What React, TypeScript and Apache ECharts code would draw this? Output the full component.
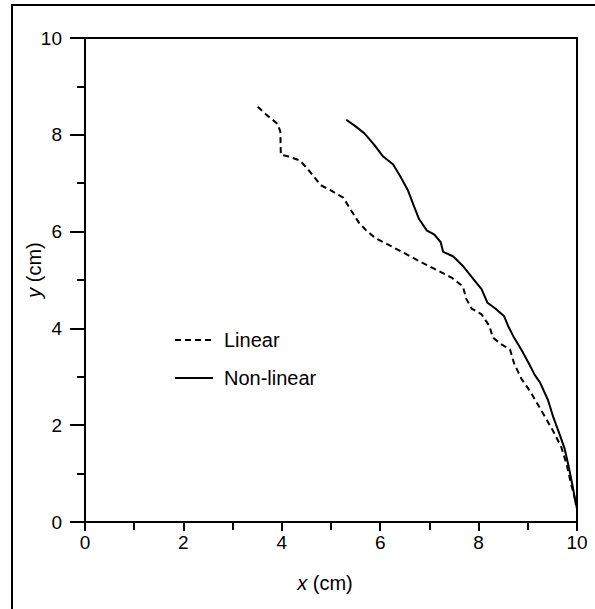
import React, { useEffect, useRef } from "react";
import * as echarts from "echarts";

const xTicks = [0, 2, 4, 6, 8, 10];
const yTicks = [0, 2, 4, 6, 8, 10];

const linearX = [3.51, 3.68, 3.91, 3.97, 3.98, 4.14, 4.37, 4.52, 4.68, 4.79, 4.98, 5.25, 5.42, 5.57, 5.72, 5.91, 6.22, 6.52, 6.83, 7.14, 7.45, 7.68, 7.75, 7.86, 8.06, 8.22, 8.29, 8.45, 8.64, 8.72, 8.87, 9.06, 9.22, 9.38, 9.52, 9.68, 9.79, 9.87, 9.97, 10.0];
const linearY = [8.58, 8.42, 8.23, 8.07, 7.59, 7.55, 7.47, 7.30, 7.10, 6.96, 6.86, 6.70, 6.42, 6.18, 6.02, 5.86, 5.70, 5.54, 5.37, 5.21, 5.05, 4.87, 4.61, 4.41, 4.29, 4.05, 3.81, 3.68, 3.56, 3.28, 2.96, 2.68, 2.40, 2.12, 1.87, 1.55, 1.19, 0.83, 0.43, 0.27];

const nonlinearX = [5.31, 5.48, 5.68, 5.88, 6.06, 6.26, 6.41, 6.56, 6.68, 6.79, 6.95, 7.10, 7.23, 7.28, 7.48, 7.68, 7.87, 8.06, 8.18, 8.34, 8.52, 8.60, 8.72, 8.87, 9.02, 9.14, 9.25, 9.41, 9.52, 9.64, 9.75, 9.83, 9.91, 9.98];
const nonlinearY = [8.31, 8.19, 8.03, 7.79, 7.55, 7.39, 7.14, 6.86, 6.54, 6.26, 6.02, 5.94, 5.78, 5.58, 5.49, 5.29, 5.05, 4.81, 4.53, 4.41, 4.25, 4.05, 3.81, 3.56, 3.28, 3.04, 2.88, 2.52, 2.16, 1.83, 1.51, 1.15, 0.75, 0.35];

const seriesNames = ["Linear", "Non-linear"];

const FONT = "'Liberation Sans', Arial, Helvetica, sans-serif";

export default function App() {
  const ref = useRef<HTMLDivElement>(null);
  useEffect(() => {
    document.body.style.margin = "0";
    const chart = echarts.init(ref.current!, null, { renderer: "svg" });
    const zip = (xs: number[], ys: number[]) => xs.map((x, i) => [x, ys[i]]);
    chart.setOption({
      animation: false,
      backgroundColor: "#fff",
      textStyle: { fontFamily: FONT, color: "#000" },
      grid: {
        left: 85,
        right: 18,
        top: 38,
        bottom: 87,
        show: true,
        borderColor: "#000",
        borderWidth: 2,
      },
      xAxis: {
        type: "value",
        min: 0,
        max: 10,
        interval: 2,
        axisLine: { show: true, onZero: false, lineStyle: { color: "#000", width: 2 } },
        axisTick: { show: true, length: 9, lineStyle: { color: "#000", width: 2 } },
        minorTick: { show: true, splitNumber: 2, length: 8, lineStyle: { color: "#000", width: 2 } },
        splitLine: { show: false },
        axisLabel: {
          fontSize: 19,
          color: "#000",
          fontFamily: FONT,
          margin: 11,
          formatter: (v: number) => (xTicks.includes(v) ? String(v) : ""),
        },
      },
      yAxis: {
        type: "value",
        min: 0,
        max: 10,
        interval: 2,
        axisLine: { show: true, onZero: false, lineStyle: { color: "#000", width: 2 } },
        axisTick: { show: true, length: 15, lineStyle: { color: "#000", width: 2 } },
        minorTick: { show: true, splitNumber: 2, length: 8, lineStyle: { color: "#000", width: 2 } },
        splitLine: { show: false },
        axisLabel: {
          fontSize: 19,
          color: "#000",
          fontFamily: FONT,
          margin: 23,
          formatter: (v: number) => (yTicks.includes(v) ? String(v) : ""),
        },
      },
      legend: {
        orient: "vertical",
        left: 169,
        top: 325,
        itemWidth: 38,
        itemHeight: 14,
        itemGap: 18,
        data: seriesNames,
        itemStyle: { color: "rgba(0,0,0,0)", borderWidth: 0, opacity: 0 },
        textStyle: {
          fontSize: 20,
          lineHeight: 20,
          color: "#000",
          fontFamily: FONT,
          padding: [0, 0, 0, 6],
        },
      },
      series: [
        {
          name: seriesNames[0],
          type: "line",
          data: zip(linearX, linearY),
          symbol: "none",
          lineStyle: { color: "#000", width: 2, type: [6, 4] },
          itemStyle: { color: "#000" },
        },
        {
          name: seriesNames[1],
          type: "line",
          data: zip(nonlinearX, nonlinearY),
          symbol: "none",
          lineStyle: { color: "#000", width: 2, type: "solid" },
          itemStyle: { color: "#000" },
        },
      ],
      graphic: [
        {
          type: "rect",
          shape: { x: 12, y: 5, width: 700, height: 700 },
          style: { fill: "none", stroke: "#000", lineWidth: 2 },
          silent: true,
        },
        {
          type: "text",
          x: 325,
          y: 583,
          style: {
            text: "{i|x} (cm)",
            rich: { i: { fontStyle: "italic", fontSize: 20, fontFamily: FONT, fill: "#000" } },
            fontSize: 20,
            fontFamily: FONT,
            fill: "#000",
            align: "center",
            verticalAlign: "middle",
          },
        },
        {
          type: "text",
          x: 34,
          y: 270,
          rotation: Math.PI / 2,
          style: {
            text: "{i|y} (cm)",
            rich: { i: { fontStyle: "italic", fontSize: 20, fontFamily: FONT, fill: "#000" } },
            fontSize: 20,
            fontFamily: FONT,
            fill: "#000",
            align: "center",
            verticalAlign: "middle",
          },
        },
      ],
    });
    return () => chart.dispose();
  }, []);
  return <div ref={ref} style={{ width: 595, height: 609 }} />;
}
